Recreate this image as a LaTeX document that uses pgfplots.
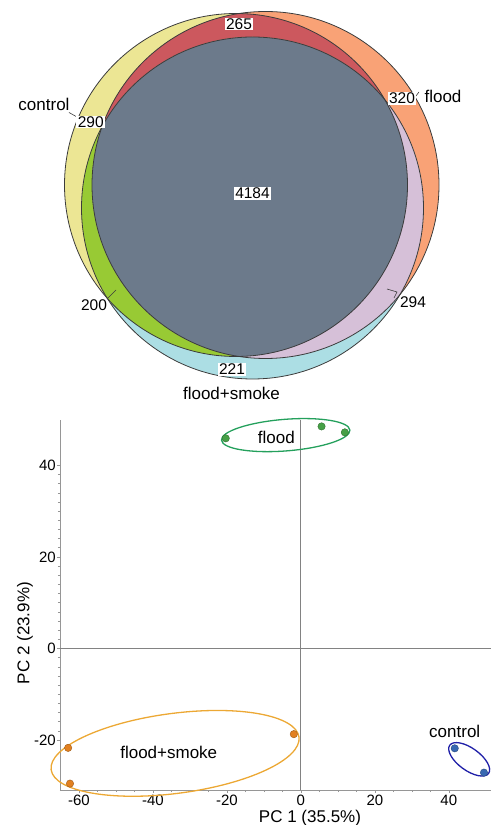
\documentclass[border=0pt]{standalone}
\usepackage{pgfplots}
\pgfplotsset{compat=1.18}
\usepackage{fontspec}
\setmainfont{Liberation Sans}
\usetikzlibrary{shapes.geometric}
\definecolor{vyellow}{RGB}{236,230,148}
\definecolor{vred}{RGB}{204,88,94}
\definecolor{vorange}{RGB}{249,162,118}
\definecolor{vgreen}{RGB}{152,202,52}
\definecolor{vpurple}{RGB}{214,192,216}
\definecolor{vblue}{RGB}{172,222,228}
\definecolor{vgray}{RGB}{108,122,139}
\definecolor{vline}{RGB}{60,60,60}
\definecolor{eflood}{RGB}{36,160,92}
\definecolor{pflood}{RGB}{70,160,70}
\definecolor{esmoke}{RGB}{236,168,52}
\definecolor{psmoke}{RGB}{226,128,32}
\definecolor{econtrol}{RGB}{32,32,168}
\definecolor{pcontrol}{RGB}{56,104,178}
\definecolor{axgray}{RGB}{150,150,150}
\definecolor{zgray}{RGB}{130,130,130}
\begin{document}
\begin{tikzpicture}
\path[use as bounding box] (0,0) rectangle (491pt,825pt);
% ---------------- Venn diagram ----------------
\begin{axis}[at={(0pt,425pt)}, anchor=south west, width=491pt, height=400pt,
  scale only axis, xmin=0, xmax=491, ymin=-400, ymax=0, hide axis, clip=false]
\fill[vyellow] (axis cs:236,-185) circle[radius=171.5pt];
\fill[vorange] (axis cs:265.5,-185) circle[radius=173.5pt];
\fill[vblue] (axis cs:252.5,-208) circle[radius=171pt];
\begin{scope}
\clip (axis cs:236,-185) circle[radius=171.5pt];
\fill[vred] (axis cs:265.5,-185) circle[radius=173.5pt];
\end{scope}
\begin{scope}
\clip (axis cs:236,-185) circle[radius=171.5pt];
\fill[vgreen] (axis cs:252.5,-208) circle[radius=171pt];
\end{scope}
\begin{scope}
\clip (axis cs:265.5,-185) circle[radius=173.5pt];
\fill[vpurple] (axis cs:252.5,-208) circle[radius=171pt];
\end{scope}
\begin{scope}
\clip (axis cs:236,-185) circle[radius=171.5pt];
\clip (axis cs:265.5,-185) circle[radius=173.5pt];
\fill[vgray] (axis cs:252.5,-208) circle[radius=171pt];
\end{scope}
\draw[vline, line width=0.8pt] (axis cs:236,-185) circle[radius=171.5pt];
\draw[vline, line width=0.8pt] (axis cs:265.5,-185) circle[radius=173.5pt];
\draw[vline, line width=0.8pt] (axis cs:252.5,-208) circle[radius=171pt];
% leader lines
\draw[vline, line width=0.6pt] (axis cs:69,-112.5) -- (axis cs:77,-117);
\draw[vline, line width=0.6pt] (axis cs:416,-96) -- (axis cs:419,-92);
\draw[vline, line width=0.6pt] (axis cs:107,-299) -- (axis cs:116,-290);
\draw[vline, line width=0.6pt] (axis cs:387,-289) -- (axis cs:397,-292) -- (axis cs:394,-298);
% labels
\begin{scope}[every node/.style={font=\fontsize{15.5}{18}\selectfont, inner xsep=1.5pt, inner ysep=1pt}]
\node[fill=white] at (axis cs:239,-24) {265};
\node[fill=white] at (axis cs:402,-98.5) {320};
\node[fill=white] at (axis cs:90.7,-122) {290};
\node[fill=white] at (axis cs:252.5,-193.5) {4184};
\node at (axis cs:94,-305) {200};
\node at (axis cs:413,-302.5) {294};
\node[fill=white] at (axis cs:232,-369.5) {221};
\end{scope}
\begin{scope}[every node/.style={font=\fontsize{17}{20}\selectfont, inner sep=0pt}]
\node at (axis cs:44,-104) {control};
\node at (axis cs:443,-96) {flood};
\node at (axis cs:231.5,-393) {flood+smoke};
\end{scope}
\end{axis}
% ---------------- PCA plot ----------------
\begin{axis}[at={(60pt,35pt)}, anchor=south west, width=431pt, height=370pt,
  scale only axis, xmin=-65.1, xmax=51.4, ymin=-30.9, ymax=49.9,
  axis lines=left, axis line style={-, draw=axgray, line width=0.8pt},
  xtick={-60,-40,-20,0,20,40}, ytick={-20,0,20,40},
  minor x tick num=3, minor y tick num=9,
  tick align=outside, major tick length=3pt, minor tick length=2pt,
  every tick/.style={axgray, line width=0.6pt},
  tick label style={font=\fontsize{15}{18}\selectfont},
  /pgf/number format/assume math mode=true,
  xticklabel style={inner sep=1pt, yshift=-1pt},
  yticklabel style={inner sep=1pt},
  clip=false,
  xlabel={PC 1 (35.5\%)}, ylabel={PC 2 (23.9\%)},
  label style={font=\fontsize{17}{20}\selectfont},
  xlabel style={at={(axis description cs:0.58,-0.075)}, anchor=center},
  ylabel style={at={(axis description cs:-0.081,0.424)}, anchor=center, rotate=0},
]
\draw[zgray, line width=0.9pt] (axis cs:0,-30.9) -- (axis cs:0,49.9);
\draw[zgray, line width=0.9pt] (axis cs:-65.1,0) -- (axis cs:51.4,0);
% confidence ellipses
\node[draw=eflood, line width=1.3pt, ellipse, minimum width=128.8pt, minimum height=31.6pt, inner sep=0pt, rotate=4.5] at (axis cs:-4.1,46.6) {};
\node[draw=esmoke, line width=1.3pt, ellipse, minimum width=250pt, minimum height=80pt, inner sep=0pt, rotate=7.5] at (axis cs:-34.0,-22.9) {};
\node[draw=econtrol, line width=1.3pt, ellipse, minimum width=48pt, minimum height=22.2pt, inner sep=0pt, rotate=-36] at (axis cs:45.5,-24.2) {};
% points
\addplot[only marks, mark=*, mark size=3.7pt, mark options={fill=pflood, draw=pflood!70!black, line width=0.4pt}] coordinates {(-20.3,45.9) (5.6,48.5) (11.9,47.2)};
\addplot[only marks, mark=*, mark size=3.7pt, mark options={fill=psmoke, draw=psmoke!70!black, line width=0.4pt}] coordinates {(-62.9,-21.7) (-62.4,-29.5) (-1.9,-18.7)};
\addplot[only marks, mark=*, mark size=3.7pt, mark options={fill=pcontrol, draw=pcontrol!70!black, line width=0.4pt}] coordinates {(41.6,-21.8) (49.5,-27.1)};
% group labels
\node[font=\fontsize{17}{20}\selectfont] at (axis cs:-6.6,46.1) {flood};
\node[font=\fontsize{17}{20}\selectfont] at (axis cs:-35.7,-22.7) {flood+smoke};
\node[font=\fontsize{17}{20}\selectfont] at (axis cs:41.6,-18.1) {control};
\end{axis}
\end{tikzpicture}
\end{document}
